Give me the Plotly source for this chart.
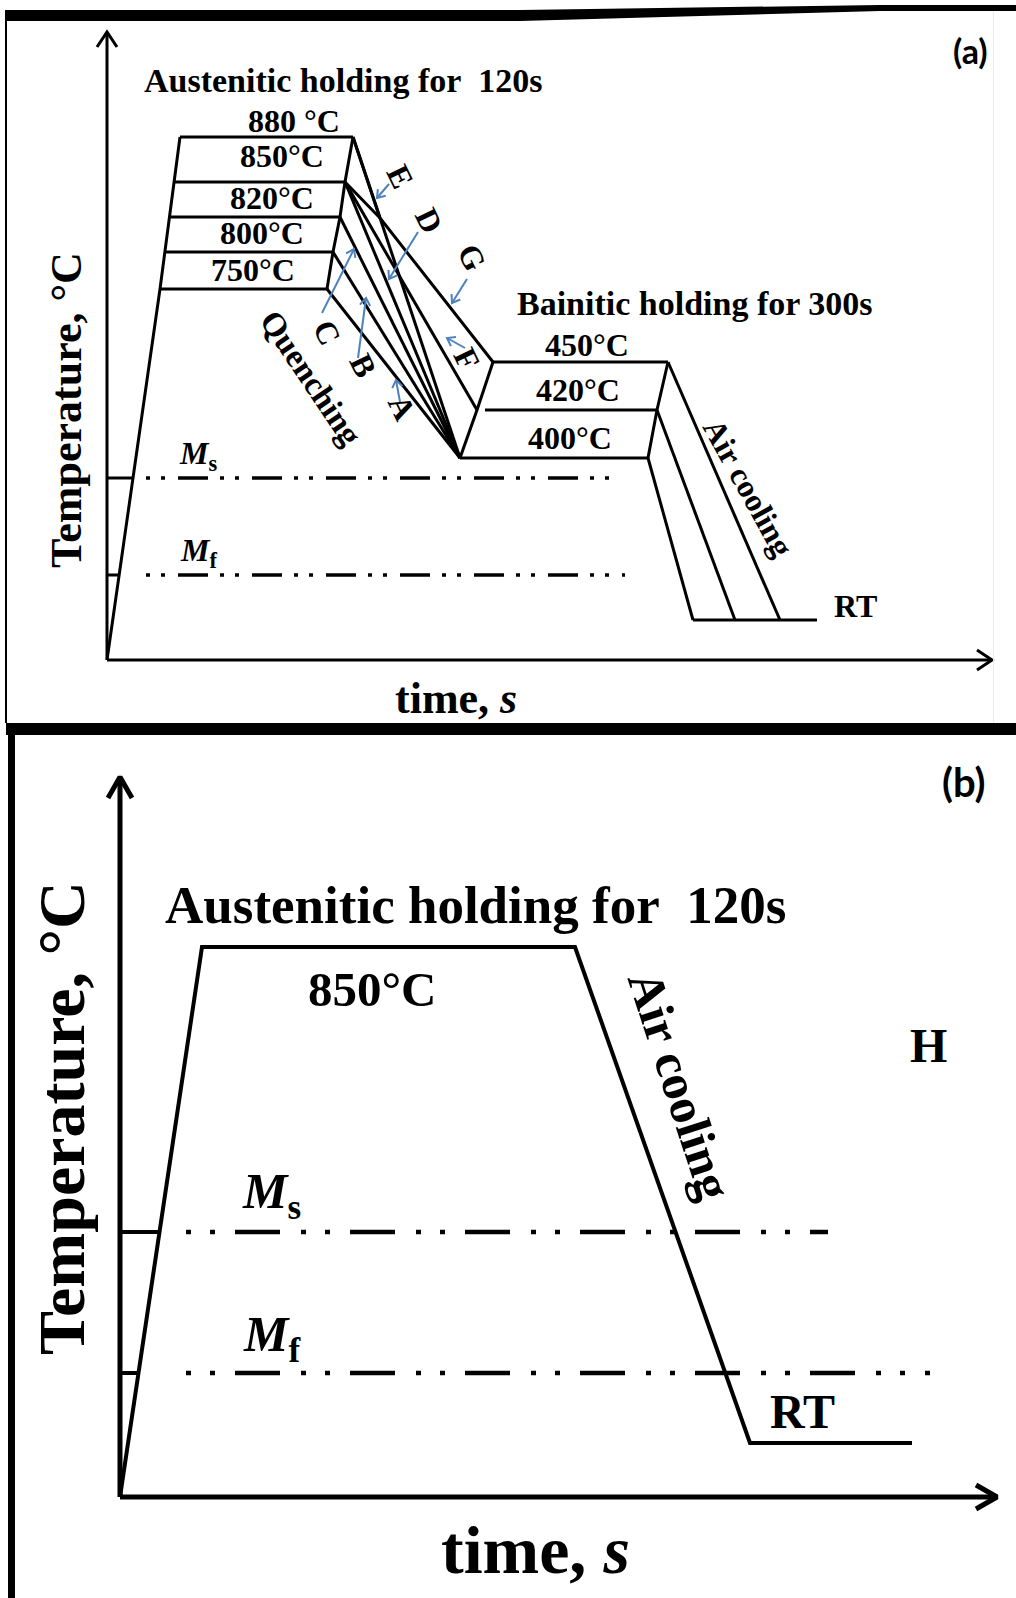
import math
import plotly.graph_objects as go

W, H = 1016, 1598
SERIF = "Liberation Serif"
SANS = "Lato"
BLUE = "#4f81bd"

# ---------------- (a) several quench routes into bainitic holding ----------------
# schematic units: time measured from the axis corner, temperature height above the time axis
a_aus_labels = ["880 °C", "850°C", "820°C", "800°C", "750°C"]
a_aus_level = [523, 478, 443, 408, 371]
a_aus_start = [73, 67, 62, 58, 53]
a_aus_end = [246, 238, 233, 226, 220]

a_bain_labels = ["450°C", "420°C", "400°C"]
a_bain_level = [298, 250, 202]
a_bain_start = [386, 370, 353]
a_bain_end = [561, 550, 541]
a_air_end = [673, 628, 586]
a_rt = 40
a_rt_end = 710
a_ms, a_mf = 182, 85
a_ms_end, a_mf_end = 503, 518
a_axis_len = (885, 628)

# knee of the faster cooling from 880 °C (routes E and G)
a_knee = (273, 442)
a_route_names = ["A", "B", "C", "D", "E", "F", "G"]
a_route_from = [4, 3, 2, 1, 0, 1, 0]   # austenitic plateau index
a_route_to = [2, 2, 2, 2, 2, 1, 0]     # bainitic plateau index
a_route_knee = [False, False, False, False, True, False, True]

# ---------------- (b) single route with air cooling ----------------
b_label = "850°C"
b_level = 550
b_start, b_end = 82, 455
b_air_end = 630
b_rt = 54
b_rt_end = 792
b_ms, b_mf = 265, 124
b_ms_end, b_mf_end = 708, 810
b_axis_len = (877, 720)

fig = go.Figure()

AX_A = dict(xaxis="x", yaxis="y")
AX_B = dict(xaxis="x2", yaxis="y2")


def line(ts, Ts, axes, width=3, color="black", dash="solid"):
    fig.add_trace(go.Scatter(x=ts, y=Ts, mode="lines",
                             line=dict(color=color, width=width, dash=dash),
                             hoverinfo="skip", showlegend=False, **axes))


def axis_arrows(length, axes, width, arm_len, arm_half):
    lt, lT = length
    line([0, 0], [0, lT], axes, width)
    line([0, lt], [0, 0], axes, width)
    line([-arm_half, 0, arm_half], [lT - arm_len, lT, lT - arm_len], axes, width)
    line([lt - arm_len, lt, lt - arm_len], [arm_half, 0, -arm_half], axes, width)


def chevron_arrow(tail, head, axes, width=2, color=BLUE, size=9, half=35):
    line([tail[0], head[0]], [tail[1], head[1]], axes, width, color)
    ang = math.atan2(tail[1] - head[1], tail[0] - head[0])
    xs, ys = [], []
    for s in (1, -1):
        a = ang + s * math.radians(half)
        xs.append(head[0] + size * math.cos(a))
        ys.append(head[1] + size * math.sin(a))
    line([xs[0], head[0], xs[1]], [ys[0], head[1], ys[1]], axes, width, color)


def cross_t(T, t_top, T_top):
    # time where the straight heating ramp from the origin reaches temperature T
    return T / T_top * t_top


# ---- panel (a) drawing ----
axis_arrows(a_axis_len, AX_A, 3, 15, 10)

# heating ramp: origin -> lowest plateau -> highest plateau
line([0, a_aus_start[4], a_aus_start[0]], [0, a_aus_level[4], a_aus_level[0]], AX_A)
for s, e, lv in zip(a_aus_start, a_aus_end, a_aus_level):
    line([s, e], [lv, lv], AX_A)
line(a_aus_end, a_aus_level, AX_A)

# quench routes
for nm, i, j, k in zip(a_route_names, a_route_from, a_route_to, a_route_knee):
    ts = [a_aus_end[i]] + ([a_knee[0]] if k else []) + [a_bain_start[j]]
    Ts = [a_aus_level[i]] + ([a_knee[1]] if k else []) + [a_bain_level[j]]
    line(ts, Ts, AX_A)
line([a_aus_end[1], a_knee[0]], [a_aus_level[1], a_knee[1]], AX_A)

# bainitic holding and air cooling
line(a_bain_start, a_bain_level, AX_A)
line(a_bain_end, a_bain_level, AX_A)
for s, e, lv, ae in zip(a_bain_start, a_bain_end, a_bain_level, a_air_end):
    line([s + (8 if lv == a_bain_level[1] else 0), e], [lv, lv], AX_A)
    line([e, ae], [lv, a_rt], AX_A)
line([min(a_air_end), a_rt_end], [a_rt, a_rt], AX_A)

# martensite start / finish
DD_A = "4px,11px,4px,13px,30px,12px"
for T, end in ((a_ms, a_ms_end), (a_mf, a_mf_end)):
    line([0, cross_t(T, a_aus_start[4], a_aus_level[4])], [T, T], AX_A, 3)
    line([39, end], [T, T], AX_A, 3.5, dash=DD_A)

# blue pointers to each route
a_ptr = {"E": ((282, 476), (270, 462)), "D": ((311, 428), (282, 381)),
         "G": ((360, 381), (345, 357)), "F": ((358, 312), (340, 322)),
         "C": ((215, 347), (247, 411)), "B": ((251, 302), (259, 362)),
         "A": ((293, 258), (289, 280))}
for nm in a_route_names:
    chevron_arrow(a_ptr[nm][0], a_ptr[nm][1], AX_A)

# ---- panel (b) drawing ----
axis_arrows(b_axis_len, AX_B, 5, 21, 12)
line([0, b_start, b_end, b_air_end, b_rt_end], [0, b_level, b_level, b_rt, b_rt], AX_B, 4)
DD_B = "5px,19px,5px,20px,45px,21px"
for T, end in ((b_ms, b_ms_end), (b_mf, b_mf_end)):
    line([0, cross_t(T, b_start, b_level)], [T, T], AX_B, 4)
    line([66, end], [T, T], AX_B, 4.5, dash=DD_B)

# ---- text ----
ann = []


def text(t, T, s, axes, size, angle=0, family=SERIF, bold=True, color="black"):
    ann.append(dict(x=t, y=T, xref=axes["xaxis"], yref=axes["yaxis"], text=s,
                    showarrow=False, textangle=angle, xanchor="center", yanchor="middle",
                    font=dict(family=family, size=size, color=color,
                              weight="bold" if bold else "normal")))


text(236, 580, "Austenitic holding for\u00a0\u00a0120s", AX_A, 34)
a_aus_lab_pos = [(187, 539), (175, 504), (165, 462), (155, 427), (146, 390)]
for lab, (t, T) in zip(a_aus_labels, a_aus_lab_pos):
    text(t, T, lab, AX_A, 32)
text(588, 357, "Bainitic holding for 300s", AX_A, 34)
a_bain_lab_pos = [(480, 315), (471, 270), (463, 222)]
for lab, (t, T) in zip(a_bain_labels, a_bain_lab_pos):
    text(t, T, lab, AX_A, 32)
text(748, 54, "RT", AX_A, 32)
text(204, 282, "Quenching", AX_A, 33, angle=56)
text(641, 173, "Air cooling", AX_A, 32, angle=61)
a_route_lab_pos = {"E": (293, 484), "D": (322, 440), "G": (365, 403), "F": (360, 301),
                   "C": (220, 328), "B": (256, 295), "A": (295, 253)}
for nm in a_route_names:
    t, T = a_route_lab_pos[nm]
    text(t, T, nm, AX_A, 32, angle=64)
text(91, 205, "<i>M</i><sub>s</sub>", AX_A, 32)
text(91, 108, "<i>M</i><sub>f</sub>", AX_A, 32)
text(349, -38, "time, <i>s</i>", AX_A, 44)
text(-41, 250, "Temperature, °C", AX_A, 44, angle=-90)
text(863, 610, "(a)", AX_A, 34, family=SANS)

text(355, 592, "Austenitic holding for\u00a0\u00a0120s", AX_B, 53)
text(252, 508, b_label, AX_B, 49)
text(560, 412, "Air cooling", AX_B, 50, angle=72)
text(808, 452, "H", AX_B, 48)
text(682, 86, "RT", AX_B, 48)
text(151, 302, "<i>M</i><sub>s</sub>", AX_B, 50)
text(151, 159, "<i>M</i><sub>f</sub>", AX_B, 50)
text(415, -53, "time, <i>s</i>", AX_B, 68)
text(-59, 379, "Temperature, °C", AX_B, 66, angle=-90)
text(844, 715, "(b)", AX_B, 40, family=SANS)

# ---- panel frames (page pixels -> paper) ----
def px(x):
    return x / W


def py(y):
    return 1 - y / H


shapes = [
    dict(type="path", xref="paper", yref="paper", line=dict(width=0), fillcolor="black",
         path=(f"M {px(7)} {py(10)} L {px(520)} {py(10)} L {px(880)} {py(5)} L {px(1016)} {py(5)} "
               f"L {px(1016)} {py(11)} L {px(880)} {py(11)} L {px(520)} {py(21)} L {px(7)} {py(21)} Z")),
    dict(type="rect", xref="paper", yref="paper", x0=px(5), x1=px(7), y0=py(723), y1=py(10),
         line=dict(width=0), fillcolor="black"),
    dict(type="rect", xref="paper", yref="paper", x0=px(993), x1=px(994), y0=py(723), y1=py(11),
         line=dict(width=0), fillcolor="#ececec"),
    dict(type="rect", xref="paper", yref="paper", x0=px(6), x1=px(1016), y0=py(735), y1=py(723),
         line=dict(width=0), fillcolor="black"),
    dict(type="rect", xref="paper", yref="paper", x0=px(8), x1=px(15), y0=py(1598), y1=py(723),
         line=dict(width=0), fillcolor="black"),
]

hidden = dict(visible=False, showgrid=False, zeroline=False, fixedrange=True)
fig.update_layout(
    width=W, height=H,
    margin=dict(l=0, r=0, t=0, b=0),
    paper_bgcolor="white", plot_bgcolor="white",
    showlegend=False,
    xaxis=dict(domain=[0, 1], range=[-107, W - 107], anchor="y", **hidden),
    yaxis=dict(domain=[0, 1], range=[660 - H, 660], anchor="x", **hidden),
    xaxis2=dict(domain=[0, 1], range=[-120, W - 120], anchor="y2", overlaying="x", **hidden),
    yaxis2=dict(domain=[0, 1], range=[1497 - H, 1497], anchor="x2", overlaying="y", **hidden),
    annotations=ann,
    shapes=shapes,
)

fig.write_html("out.html")
